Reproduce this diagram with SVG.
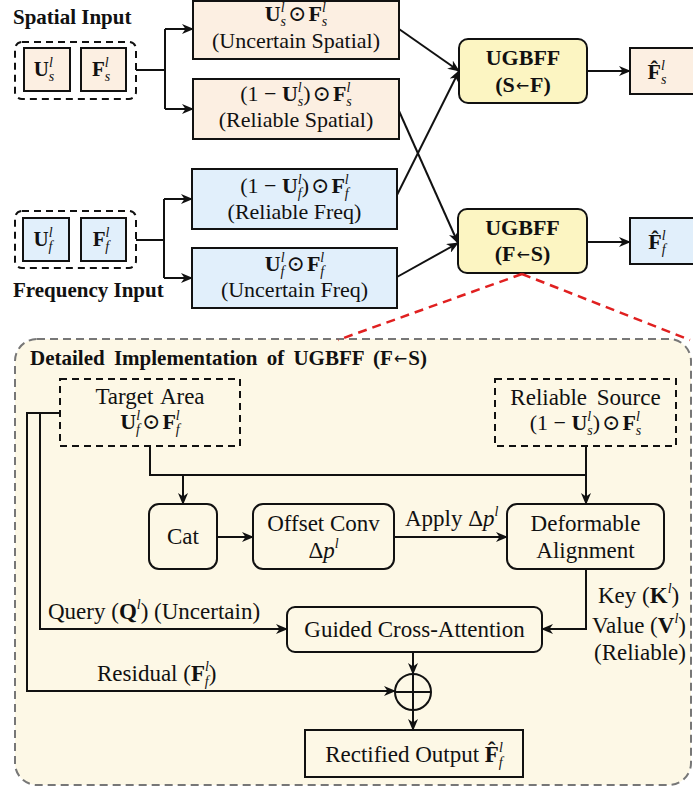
<svg xmlns="http://www.w3.org/2000/svg" width="693" height="787" viewBox="0 0 693 787">
<style>
text{font-family:"Liberation Serif","DejaVu Serif",serif;fill:#111}
.b{font-weight:bold}
.i{font-style:italic}
.s{font-size:14px;font-style:italic}
.ar{font-family:"DejaVu Sans",sans-serif;font-weight:normal;font-size:16px}
.box{stroke:#111;stroke-width:2}
.sp{fill:#fcefe2}
.fq{fill:#e1effb}
.ug{fill:#fcf5c2}
.wb{fill:#fdf8e6}
.dash{fill:none;stroke:#111;stroke-width:2;stroke-dasharray:7 5}
.ln{fill:none;stroke:#111;stroke-width:2}
.arr{marker-end:url(#ah)}
.red{fill:none;stroke:#e02020;stroke-width:2.5;stroke-dasharray:9 6}
</style>
<defs>
<marker id="ah" viewBox="0 0 12 10" refX="11" refY="5" markerWidth="12" markerHeight="10" markerUnits="userSpaceOnUse" orient="auto">
<path d="M0,0 L12,5 L0,10 L3.5,5 z" fill="#111"/>
</marker>
</defs>

<!-- Detail panel background -->
<g id="panel">
<rect x="15" y="339" width="676" height="446" rx="22" fill="#fdf8e6" stroke="#777" stroke-width="2" stroke-dasharray="8 5"/>
<text x="30" y="365" font-size="21" class="b" word-spacing="4">Detailed Implementation of UGBFF (F<tspan class="ar" font-size="15" dx="1" dy="-1">←</tspan><tspan dx="1" dy="1">S)</tspan></text>
</g>

<!-- Spatial input -->
<g id="spatial-input">
<text x="13" y="24" font-size="21" class="b">Spatial Input</text>
<rect x="15" y="42" width="121" height="57" rx="7" class="dash"/>
<rect x="24" y="48" width="46" height="43" class="box sp"/>
<text x="44" y="76" font-size="21" text-anchor="middle"><tspan class="b">U</tspan><tspan class="s" dy="-9">l</tspan><tspan class="s" dx="-4" dy="14">s</tspan></text>
<rect x="81" y="48" width="45" height="43" class="box sp"/>
<text x="101" y="76" font-size="21" text-anchor="middle"><tspan class="b">F</tspan><tspan class="s" dy="-9">l</tspan><tspan class="s" dx="-4" dy="14">s</tspan></text>
</g>

<g id="uncertain-spatial">
<rect x="193" y="1" width="206" height="58" class="box sp"/>
<text x="296" y="21" font-size="22" text-anchor="middle"><tspan class="b">U</tspan><tspan class="s" dy="-9">l</tspan><tspan class="s" dx="-4" dy="14">s</tspan><tspan dy="-5" dx="2">⊙</tspan><tspan class="b" dx="2">F</tspan><tspan class="s" dy="-9">l</tspan><tspan class="s" dx="-4" dy="14">s</tspan></text>
<text x="296" y="48" font-size="22" text-anchor="middle">(Uncertain Spatial)</text>
</g>

<g id="reliable-spatial">
<rect x="193" y="79" width="206" height="60" class="box sp"/>
<text x="296" y="101" font-size="22" text-anchor="middle">(1 − <tspan class="b">U</tspan><tspan class="s" dy="-9">l</tspan><tspan class="s" dx="-4" dy="14">s</tspan><tspan dy="-5">)</tspan><tspan dx="2">⊙</tspan><tspan class="b" dx="2">F</tspan><tspan class="s" dy="-9">l</tspan><tspan class="s" dx="-4" dy="14">s</tspan></text>
<text x="296" y="127" font-size="22" text-anchor="middle">(Reliable Spatial)</text>
</g>

<!-- Frequency input -->
<g id="frequency-input">
<rect x="15" y="211" width="121" height="57" rx="7" class="dash"/>
<rect x="23" y="218" width="46" height="43" class="box fq"/>
<text x="43" y="246" font-size="21" text-anchor="middle"><tspan class="b">U</tspan><tspan class="s" dy="-9">l</tspan><tspan class="s" dx="-4" dy="14">f</tspan></text>
<rect x="81" y="218" width="45" height="43" class="box fq"/>
<text x="101" y="246" font-size="21" text-anchor="middle"><tspan class="b">F</tspan><tspan class="s" dy="-9">l</tspan><tspan class="s" dx="-4" dy="14">f</tspan></text>
<text x="13" y="297" font-size="21" class="b">Frequency Input</text>
</g>

<g id="reliable-freq">
<rect x="192" y="169" width="205" height="60" class="box fq"/>
<text x="294.5" y="193" font-size="22" text-anchor="middle">(1 − <tspan class="b">U</tspan><tspan class="s" dy="-9">l</tspan><tspan class="s" dx="-4" dy="14">f</tspan><tspan dy="-5">)</tspan><tspan dx="2">⊙</tspan><tspan class="b" dx="2">F</tspan><tspan class="s" dy="-9">l</tspan><tspan class="s" dx="-4" dy="14">f</tspan></text>
<text x="294.5" y="219" font-size="22" text-anchor="middle">(Reliable Freq)</text>
</g>

<g id="uncertain-freq">
<rect x="192" y="248" width="205" height="60" class="box fq"/>
<text x="294.5" y="271" font-size="22" text-anchor="middle"><tspan class="b">U</tspan><tspan class="s" dy="-9">l</tspan><tspan class="s" dx="-4" dy="14">f</tspan><tspan dy="-5" dx="2">⊙</tspan><tspan class="b" dx="2">F</tspan><tspan class="s" dy="-9">l</tspan><tspan class="s" dx="-4" dy="14">f</tspan></text>
<text x="294.5" y="297" font-size="22" text-anchor="middle">(Uncertain Freq)</text>
</g>

<g id="ugbff-s">
<rect x="459" y="39" width="128" height="64" rx="9" class="box ug"/>
<text x="523" y="65" font-size="22" class="b" text-anchor="middle">UGBFF</text>
<text x="523" y="92" font-size="22" class="b" text-anchor="middle">(S<tspan class="ar" dx="1" dy="-1">←</tspan><tspan dx="1" dy="1">F)</tspan></text>
</g>

<g id="ugbff-f">
<rect x="458" y="209" width="129" height="64" rx="9" class="box ug"/>
<text x="522.5" y="235" font-size="22" class="b" text-anchor="middle">UGBFF</text>
<text x="522.5" y="261" font-size="22" class="b" text-anchor="middle">(F<tspan class="ar" dx="1" dy="-1">←</tspan><tspan dx="1" dy="1">S)</tspan></text>
</g>

<g id="out-s">
<rect x="630" y="48" width="70" height="46" class="box sp"/>
<text x="657" y="79" font-size="22" text-anchor="middle"><tspan class="b">F̂</tspan><tspan class="s" dy="-9">l</tspan><tspan class="s" dx="-4" dy="14">s</tspan></text>
</g>

<g id="out-f">
<rect x="630" y="218" width="70" height="46" class="box fq"/>
<text x="657" y="249" font-size="22" text-anchor="middle"><tspan class="b">F̂</tspan><tspan class="s" dy="-9">l</tspan><tspan class="s" dx="-4" dy="14">f</tspan></text>
</g>

<!-- Detail nodes -->
<g id="target-area">
<rect x="60" y="379" width="180" height="67" class="dash"/>
<text x="150" y="404" font-size="23" text-anchor="middle" word-spacing="2">Target Area</text>
<text x="150" y="429" font-size="22" text-anchor="middle"><tspan class="b">U</tspan><tspan class="s" dy="-9">l</tspan><tspan class="s" dx="-4" dy="14">f</tspan><tspan dy="-5" dx="2">⊙</tspan><tspan class="b" dx="2">F</tspan><tspan class="s" dy="-9">l</tspan><tspan class="s" dx="-4" dy="14">f</tspan></text>
</g>

<g id="reliable-source">
<rect x="495" y="379" width="181" height="67" class="dash"/>
<text x="585.5" y="405" font-size="23" text-anchor="middle" word-spacing="4">Reliable Source</text>
<text x="585.5" y="430" font-size="22" text-anchor="middle">(1 − <tspan class="b">U</tspan><tspan class="s" dy="-9">l</tspan><tspan class="s" dx="-4" dy="14">s</tspan><tspan dy="-5">)</tspan><tspan dx="2">⊙</tspan><tspan class="b" dx="2">F</tspan><tspan class="s" dy="-9">l</tspan><tspan class="s" dx="-4" dy="14">s</tspan></text>
</g>

<g id="cat">
<rect x="149" y="504" width="68" height="65" rx="10" class="box wb"/>
<text x="183" y="544" font-size="23" text-anchor="middle">Cat</text>
</g>

<g id="offset-conv">
<rect x="253" y="504" width="141" height="65" rx="10" class="box wb"/>
<text x="323.5" y="531" font-size="23" text-anchor="middle">Offset Conv</text>
<text x="323.5" y="558" font-size="23" text-anchor="middle">Δ<tspan class="i">p</tspan><tspan class="s" dy="-10">l</tspan></text>
</g>

<g id="deformable">
<rect x="507" y="504" width="157" height="65" rx="10" class="box wb"/>
<text x="585.5" y="531" font-size="23" text-anchor="middle">Deformable</text>
<text x="585.5" y="558" font-size="23" text-anchor="middle">Alignment</text>
</g>

<g id="gca">
<rect x="287" y="607" width="255" height="45" rx="8" class="box wb"/>
<text x="414.5" y="637" font-size="23" text-anchor="middle">Guided Cross-Attention</text>
</g>

<g id="sum">
<circle cx="413" cy="692" r="18" class="ln"/>
<path d="M395,692 H431 M413,674 V710" class="ln"/>
</g>

<g id="rectified">
<rect x="305" y="730" width="218" height="47" class="box wb"/>
<text x="414" y="762" font-size="23" text-anchor="middle">Rectified Output <tspan class="b">F̂</tspan><tspan class="s" dy="-10">l</tspan><tspan class="s" dx="-4" dy="15">f</tspan></text>
</g>

<!-- Connectors -->
<g id="connectors">
<path d="M136,70 H165 M165,29 V109" class="ln"/>
<path d="M165,29 H193" class="ln arr"/>
<path d="M165,109 H193" class="ln arr"/>
<path d="M136,240 H164 M164,199 V278" class="ln"/>
<path d="M164,199 H192" class="ln arr"/>
<path d="M164,278 H192" class="ln arr"/>
<path d="M399,29 L459,71" class="ln arr"/>
<path d="M397,195 L459,71" class="ln arr"/>
<path d="M399,111 L458,243" class="ln arr"/>
<path d="M397,277 L458,243" class="ln arr"/>
<path d="M587,71 H630" class="ln arr"/>
<path d="M587,242 H630" class="ln arr"/>
<path d="M522,274 L338,340 M522,274 L690,340" class="red"/>

<path d="M150,446 V475 H586" class="ln"/>
<path d="M183,475 V504" class="ln arr"/>
<path d="M586,446 V504" class="ln arr"/>
<path d="M60,413 H27 V691 H395" class="ln arr"/>
<path d="M40,413 V629 H287" class="ln arr"/>
<path d="M217,537 H253" class="ln arr"/>
<path d="M394,537 H507" class="ln arr"/>
<path d="M586,569 V629 H542" class="ln arr"/>
<path d="M413,652 V674" class="ln arr"/>
<path d="M413,710 V730" class="ln arr"/>

<text x="405" y="526" font-size="23">Apply Δ<tspan class="i">p</tspan><tspan class="s" dy="-10">l</tspan></text>
<text x="48" y="619" font-size="23">Query (<tspan class="b">Q</tspan><tspan class="s" dy="-10">l</tspan><tspan dy="10">) (Uncertain)</tspan></text>
<text x="97" y="681" font-size="23">Residual (<tspan class="b">F</tspan><tspan class="s" dy="-10">l</tspan><tspan class="s" dx="-4" dy="15">f</tspan><tspan dy="-5">)</tspan></text>
<text x="598" y="603" font-size="23">Key (<tspan class="b">K</tspan><tspan class="s" dy="-10">l</tspan><tspan dy="10">)</tspan></text>
<text x="592" y="633" font-size="23">Value (<tspan class="b">V</tspan><tspan class="s" dy="-10">l</tspan><tspan dy="10">)</tspan></text>
<text x="594" y="660" font-size="23">(Reliable)</text>
</g>
</svg>
